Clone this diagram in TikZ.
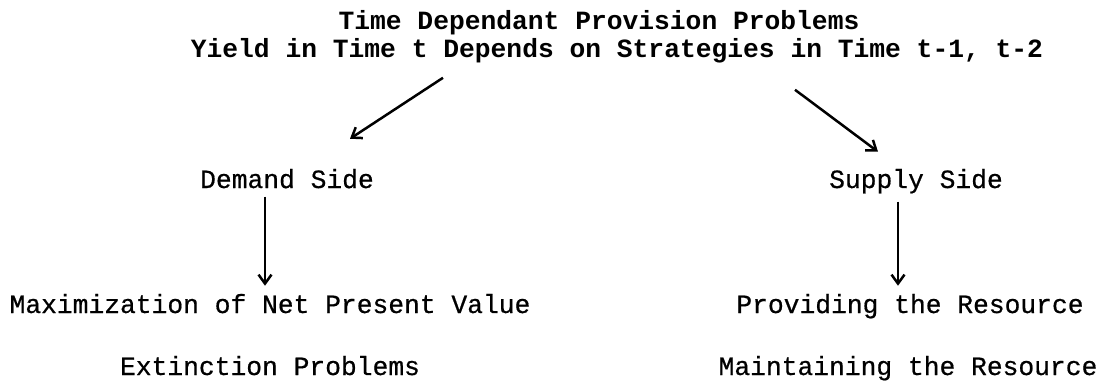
\documentclass[tikz,border=0pt]{standalone}
\usepackage{fontspec}
\setmonofont{Liberation Mono}
\newfontfamily\twfont{Liberation Mono}[FakeBold=0.6]
\usetikzlibrary{arrows.meta}
\begin{document}
\begin{tikzpicture}[x=1pt,y=-1pt,
  txt/.style={inner sep=0pt,anchor=base,font=\twfont\fontsize{26.3}{30}\selectfont},
  ttl/.style={txt,font=\ttfamily\bfseries\fontsize{26.3}{30}\selectfont},
  arr/.style={line width=2.5pt,-{Straight Barb[length=9pt,width=13pt,line width=2.5pt]}}]
\useasboundingbox (0,0) rectangle (1104,389);
\node[ttl] (t1) at (599,29) {Time Dependant Provision Problems};
\node[ttl] (t2) at (617,57) {Yield in Time t Depends on Strategies in Time t-1, t-2};
\node[txt] (dem) at (287,188) {Demand Side};
\node[txt] (sup) at (916,188) {Supply Side};
\node[txt] (max) at (270,313) {Maximization of Net Present Value};
\node[txt] (prov) at (910,313) {Providing the Resource};
\node[txt] (ext) at (270,375) {Extinction Problems};
\node[txt] (maint) at (908,375) {Maintaining the Resource};
% diagonal connectors
\draw[arr] ([xshift=-174pt,yshift=-15pt]t2.south) -- ([xshift=63pt,yshift=30pt]dem.north);
\draw[arr] ([xshift=178pt,yshift=-27pt]t2.south) -- ([xshift=-38pt,yshift=17pt]sup.north);
% vertical connectors
\draw[arr] ([xshift=-22pt,yshift=-8pt]dem.south) -- ([xshift=-5pt,yshift=8pt]max.north);
\draw[arr] ([xshift=-18pt,yshift=-8pt]sup.south) -- ([xshift=-12pt,yshift=8pt]prov.north);
\end{tikzpicture}
\end{document}
